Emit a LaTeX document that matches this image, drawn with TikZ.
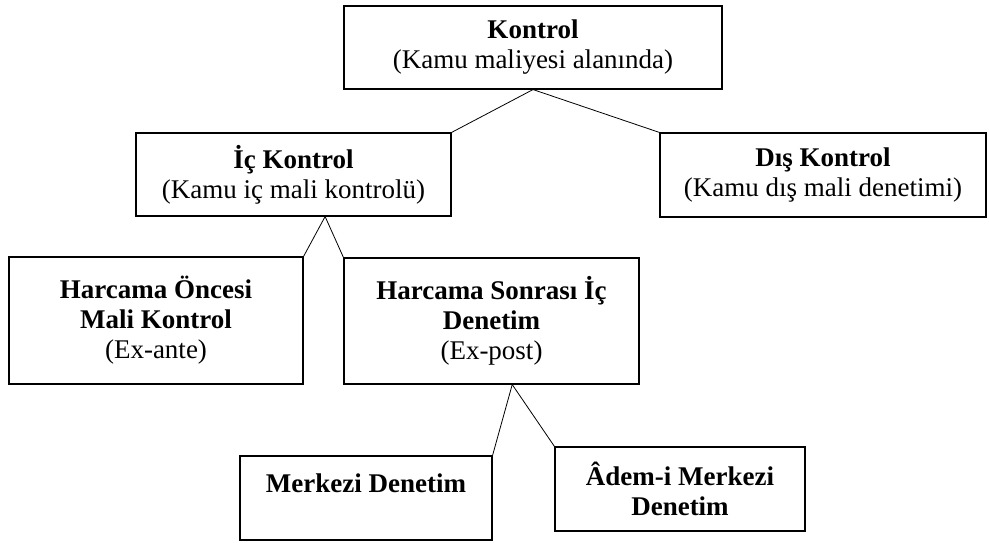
\documentclass[tikz,border=0pt]{standalone}
\usepackage{fontspec}
\setmainfont{Liberation Serif}
\usetikzlibrary{calc}

\begin{document}
\begin{tikzpicture}[x=1pt,y=-1pt,
    box/.style={draw, line width=1.1pt, align=center, inner sep=0pt,
                font=\fontsize{27}{30}\selectfont},
    link/.style={line width=0.8pt}]
  \useasboundingbox (0,0) rectangle (989,542);

  % Top level
  \node[box, minimum width=378pt, minimum height=83pt] (kontrol) at (533,47.5)
       {\textbf{Kontrol}\\(Kamu maliyesi alanında)};

  % Second level
  \node[box, minimum width=315pt, minimum height=83pt] (ic) at (293.5,174.5)
       {\textbf{İç Kontrol}\\(Kamu iç mali kontrolü)};
  \node[box, minimum width=326pt, minimum height=84pt] (dis) at (823,175)
       {\textbf{Dış Kontrol}\\(Kamu dış mali denetimi)};

  % Third level
  \node[box, minimum width=294pt, minimum height=127pt] (oncesi) at (156,320.5)
       {\textbf{Harcama Öncesi}\\\textbf{Mali Kontrol}\\(Ex-ante)};
  \node[box, minimum width=295pt, minimum height=126pt] (sonrasi) at (491.5,321)
       {\textbf{Harcama Sonrası İç}\\\textbf{Denetim}\\(Ex-post)};

  % Fourth level
  \node[box, minimum width=252pt, minimum height=84pt] (merkezi) at (366,498)
       {\textbf{Merkezi Denetim}\\\phantom{D}};
  \node[box, minimum width=250pt, minimum height=84pt] (adem) at (680,489)
       {\textbf{Âdem-i Merkezi}\\\textbf{Denetim}};

  % Connectors
  \coordinate (icfoot) at ($(ic.south west)!0.6!(ic.south east)$);
  \coordinate (sonrasifoot) at ($(sonrasi.south west)!0.57!(sonrasi.south east)$);
  \draw[link] (kontrol.south) -- (ic.north east);
  \draw[link] (kontrol.south) -- (dis.north west);
  \draw[link] (icfoot) -- (oncesi.north east);
  \draw[link] (icfoot) -- (sonrasi.north west);
  \draw[link] (sonrasifoot) -- (merkezi.north east);
  \draw[link] (sonrasifoot) -- (adem.north west);
\end{tikzpicture}
\end{document}
